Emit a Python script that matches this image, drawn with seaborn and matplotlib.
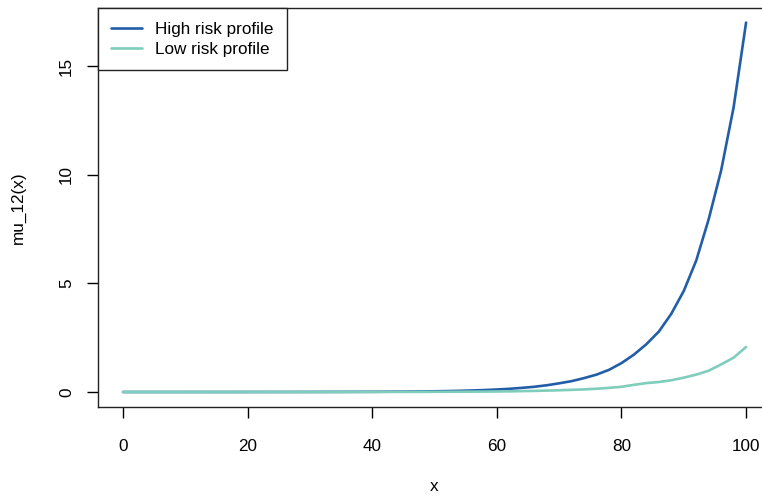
import numpy as np
import pandas as pd
import matplotlib
matplotlib.use("Agg")
import matplotlib.pyplot as plt
import seaborn as sns
from matplotlib.lines import Line2D

# Transition intensity mu_12(x) by age x for two risk profiles
ages = [0, 10, 20, 30, 40, 44, 48, 50, 52, 54, 56, 58, 60, 62, 64, 66, 68, 70,
        72, 74, 76, 78, 80, 82, 84, 86, 88, 90, 92, 94, 96, 98, 100]
high_risk = [0.0001, 0.0003, 0.001, 0.003, 0.0095, 0.016, 0.026, 0.033, 0.042,
             0.054, 0.070, 0.089, 0.115, 0.147, 0.19, 0.24, 0.31, 0.40,
             0.50, 0.64, 0.80, 1.02, 1.33, 1.72, 2.20, 2.78, 3.60, 4.65,
             6.05, 7.95, 10.2, 13.1, 17.0]
low_risk = [0.00003, 0.0001, 0.0003, 0.001, 0.003, 0.005, 0.007, 0.008, 0.010,
            0.013, 0.016, 0.020, 0.025, 0.030, 0.040, 0.050, 0.065, 0.080,
            0.10, 0.12, 0.15, 0.19, 0.24, 0.33, 0.41, 0.46, 0.54, 0.66,
            0.80, 0.98, 1.27, 1.58, 2.07]
series_names = ["High risk profile", "Low risk profile"]
colors = ["#225EA8", "#7FCDBB"]

df = pd.DataFrame({
    "x": ages * 2,
    "mu": high_risk + low_risk,
    "profile": [series_names[0]] * len(ages) + [series_names[1]] * len(ages),
})

sns.set_style("ticks")
plt.rcParams["font.family"] = ["Liberation Sans", "DejaVu Sans"]
plt.rcParams["text.color"] = "black"
plt.rcParams["axes.labelcolor"] = "black"

fig = plt.figure(figsize=(7.62, 4.98), dpi=100)
ax = fig.add_axes([97.5 / 762, 1 - 407 / 498, (771 - 97.5) / 762, (407 - 8) / 498])

# Blue first, teal drawn on top
sns.lineplot(data=df, x="x", y="mu", hue="profile", hue_order=series_names,
             palette=colors, linewidth=1.9, ax=ax, legend=False)

ax.set_xlim(-4.09, 104)
ax.set_ylim(-0.69, 17.67)
ax.set_xticks([0, 20, 40, 60, 80, 100])
ax.set_yticks([0, 5, 10, 15])
ax.tick_params(axis="both", direction="out", length=8, width=1, color="black",
               labelcolor="black", labelsize=12.3)
ax.tick_params(axis="x", pad=15)
ax.tick_params(axis="y", pad=9)
for lab in ax.get_yticklabels():
    lab.set_rotation(90)
    lab.set_va("center")

for side in ["left", "bottom", "top", "right"]:
    ax.spines[side].set_visible(True)
    ax.spines[side].set_color("#222222")
    ax.spines[side].set_linewidth(1.0)

ax.set_xlabel("x", fontsize=12.3, labelpad=18)
ax.set_ylabel("mu_12(x)", fontsize=12.3, labelpad=24)

handles = [Line2D([0], [0], color=c, lw=1.9) for c in colors]
leg = ax.legend(handles, series_names, loc="upper left", bbox_to_anchor=(0, 1),
                borderaxespad=0, fontsize=12.3, frameon=True, fancybox=False,
                handlelength=1.8, handletextpad=0.75, labelspacing=0.3,
                borderpad=0.8)
frame = leg.get_frame()
frame.set_edgecolor("#222222")
frame.set_linewidth(1.0)
frame.set_alpha(1)

fig.savefig("out.png", dpi=100)
